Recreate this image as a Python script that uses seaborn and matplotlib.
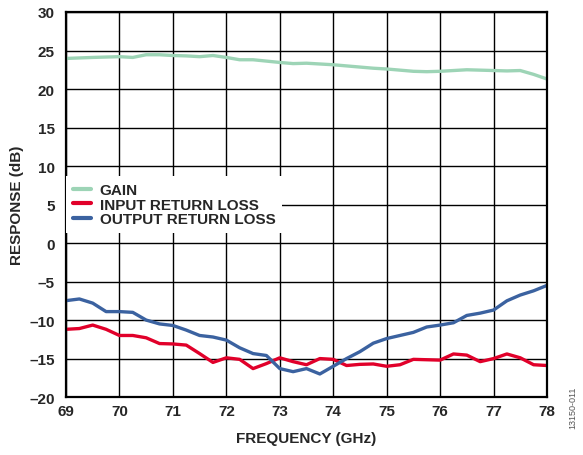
import numpy as np
import pandas as pd
import matplotlib
matplotlib.use('Agg')
import matplotlib.pyplot as plt
import seaborn as sns

# data
freq_gain = [69.0, 69.5, 70.0, 70.25, 70.5, 70.75, 71.0, 71.25, 71.5, 71.75, 72.0, 72.25,
             72.5, 73.0, 73.25, 73.5, 74.0, 74.5, 74.75, 75.0, 75.5, 75.75, 76.0, 76.5,
             77.0, 77.25, 77.5, 77.75, 78.0]
gain = [23.97, 24.1, 24.2, 24.1, 24.45, 24.45, 24.35, 24.3, 24.2, 24.35, 24.1, 23.8,
        23.8, 23.45, 23.3, 23.35, 23.15, 22.85, 22.7, 22.6, 22.3, 22.25, 22.3, 22.5,
        22.4, 22.35, 22.4, 21.9, 21.3]

freq_loss = [69.0, 69.25, 69.5, 69.75, 70.0, 70.25, 70.5, 70.75, 71.0, 71.25, 71.5, 71.75,
             72.0, 72.25, 72.5, 72.75, 73.0, 73.25, 73.5, 73.75, 74.0, 74.25, 74.5, 74.75,
             75.0, 75.25, 75.5, 75.75, 76.0, 76.25, 76.5, 76.75, 77.0, 77.25, 77.5, 77.75, 78.0]
input_rl = [-11.2, -11.1, -10.65, -11.2, -12.0, -12.0, -12.3, -13.05, -13.1, -13.25, -14.35, -15.5,
            -14.9, -15.1, -16.3, -15.65, -14.9, -15.4, -15.8, -15.0, -15.1, -15.9, -15.75, -15.7,
            -16.0, -15.8, -15.1, -15.15, -15.2, -14.4, -14.55, -15.4, -15.0, -14.4, -14.9, -15.8, -15.9]
output_rl = [-7.48, -7.26, -7.8, -8.9, -8.9, -9.0, -10.0, -10.5, -10.7, -11.3, -12.0, -12.2,
             -12.6, -13.6, -14.35, -14.6, -16.3, -16.7, -16.3, -17.0, -16.0, -15.0, -14.1, -13.0,
             -12.4, -12.0, -11.6, -10.9, -10.65, -10.35, -9.4, -9.1, -8.7, -7.5, -6.75, -6.2, -5.5]

x_ticks = [69, 70, 71, 72, 73, 74, 75, 76, 77, 78]
y_ticks = [-20, -15, -10, -5, 0, 5, 10, 15, 20, 25, 30]

sns.set_style('white')
plt.rcParams['font.family'] = ['Liberation Sans', 'DejaVu Sans']
plt.rcParams['font.weight'] = 'bold'

df = pd.concat([
    pd.DataFrame({'freq': freq_gain, 'resp': gain, 'series': 'GAIN'}),
    pd.DataFrame({'freq': freq_loss, 'resp': input_rl, 'series': 'INPUT RETURN LOSS'}),
    pd.DataFrame({'freq': freq_loss, 'resp': output_rl, 'series': 'OUTPUT RETURN LOSS'}),
])
palette = {'GAIN': '#9dd4b6', 'INPUT RETURN LOSS': '#e1002a', 'OUTPUT RETURN LOSS': '#3b62a0'}

fig = plt.figure(figsize=(5.83, 4.56), dpi=100)
ax = fig.add_axes([0.1132, 0.127, 0.825, 0.8445])
sns.lineplot(data=df, x='freq', y='resp', hue='series', palette=palette,
             linewidth=2.4, ax=ax, sort=False)

ax.set_xlim(69, 78)
ax.set_ylim(-20, 30)
ax.set_xticks(x_ticks)
ax.set_yticks(y_ticks)
ax.set_yticklabels([str(v).replace('-', '\u2013') for v in y_ticks])
ax.grid(True, color='black', linewidth=1.0)
for s in ax.spines.values():
    s.set_color('black')
    s.set_linewidth(1.6)
ax.tick_params(labelsize=11, length=0)
ax.tick_params(axis='y', pad=8)
ax.tick_params(axis='x', pad=5)
for lab in ax.get_xticklabels() + ax.get_yticklabels():
    lab.set_fontweight('bold')
ax.set_xlabel('FREQUENCY (GHz)', fontsize=11, fontweight='bold', labelpad=9)
ax.set_ylabel('RESPONSE (dB)', fontsize=11, fontweight='bold', labelpad=4)

leg = ax.legend(loc='upper left', bbox_to_anchor=(0.0, 0.573), frameon=True, fancybox=False,
                framealpha=1, edgecolor='none', handlelength=1.2, handletextpad=0.55,
                labelspacing=0.02, borderpad=0.45, borderaxespad=0.0, fontsize=11)
for t in leg.get_texts():
    t.set_fontweight('bold')
for h in leg.get_lines():
    h.set_linewidth(3.0)

fig.text(0.982, 0.06, '13150-011', rotation=90, fontsize=6.5, color='#555555',
         fontweight='normal', ha='center', va='bottom')

fig.savefig('out.png', dpi=100)
